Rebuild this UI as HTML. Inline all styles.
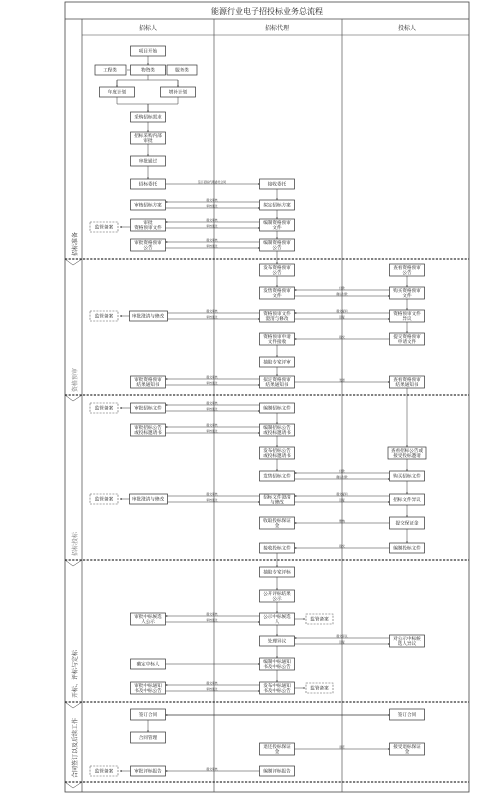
<!DOCTYPE html>
<html><head><meta charset="utf-8"><style>
html,body{margin:0;padding:0;background:#fff;}
svg{display:block;font-family:"Liberation Serif","Noto Serif CJK SC","Noto Sans CJK SC",serif;}
.b{fill:#fff;stroke:#333;stroke-width:0.7}
.d{fill:#fff;stroke:#555;stroke-width:0.6;stroke-dasharray:2,1.2}
.t{font-size:4.6px;text-anchor:middle;fill:#111}
.l{stroke:#333;stroke-width:0.5;fill:none}
.s{font-size:2.8px;text-anchor:middle;fill:#222}
.sep{stroke:#000;stroke-width:1;stroke-dasharray:2.2,1.4}
</style></head><body>
<svg width="499" height="800" viewBox="0 0 499 800">
<defs><marker id="a" markerWidth="4" markerHeight="4" refX="3.5" refY="2" orient="auto"><path d="M0,0.3 L4,2 L0,3.7z" fill="#222"/></marker></defs>
<!-- frame -->
<rect x="65" y="2" width="404" height="790" fill="none" stroke="#444" stroke-width="0.8"/>
<line x1="65" y1="19" x2="469" y2="19" stroke="#444" stroke-width="0.8"/>
<line x1="82" y1="35" x2="469" y2="35" stroke="#444" stroke-width="0.6"/>
<line x1="82" y1="19" x2="82" y2="792" stroke="#444" stroke-width="0.7"/>
<line x1="214" y1="19" x2="214" y2="792" stroke="#555" stroke-width="0.7"/>
<line x1="342" y1="19" x2="342" y2="792" stroke="#555" stroke-width="0.7"/>
<text x="267" y="14" font-size="8" text-anchor="middle" fill="#222">能源行业电子招投标业务总流程</text>
<text x="148" y="30" font-size="6" text-anchor="middle" fill="#222">招标人</text>
<text x="277" y="30" font-size="6" text-anchor="middle" fill="#222">招标代理</text>
<text x="407" y="30" font-size="6" text-anchor="middle" fill="#222">投标人</text>
<!-- separators -->
<line class="sep" x1="65" y1="259" x2="469" y2="259"/>
<line class="sep" x1="65" y1="395" x2="469" y2="395"/>
<line class="sep" x1="65" y1="560" x2="469" y2="560"/>
<line class="sep" x1="65" y1="702" x2="469" y2="702"/>
<line class="sep" x1="65" y1="782" x2="469" y2="782"/>
<path class="l" d="M65,259 L73,265 L82,259 M65,395 L73,401 L82,395 M65,560 L73,566 L82,560 M65,702 L73,708 L82,702 M65,782 L73,788 L82,782" stroke-width="0.8"/>
<g font-size="6" fill="#333">
<text transform="translate(77,256) rotate(-90)">招标准备</text>
<text transform="translate(77,392) rotate(-90)" fill="#777">资格预审</text>
<text transform="translate(77,556) rotate(-90)" fill="#777">招标投标</text>
<text transform="translate(77,698) rotate(-90)">开标、评标与定标</text>
<text transform="translate(77,778) rotate(-90)">合同签订以及后续工作</text>
</g>
<!-- connectors col1 top -->
<g class="l">
<line x1="148" y1="56" x2="148" y2="65" marker-end="url(#a)"/>
<line x1="127" y1="70" x2="130" y2="70"/><line x1="166" y1="70" x2="165" y2="70"/>
<path d="M148,75 V80 M117,80 H178 M117,80 V87 M178,80 V87" />
<line x1="117" y1="80" x2="117" y2="87" marker-end="url(#a)"/><line x1="178" y1="80" x2="178" y2="87" marker-end="url(#a)"/>
<path d="M117,97 V104 H178 V97 M148,104 V112" /><line x1="148" y1="104" x2="148" y2="112" marker-end="url(#a)"/>
<line x1="148" y1="122" x2="148" y2="132" marker-end="url(#a)"/>
<line x1="148" y1="144" x2="148" y2="156" marker-end="url(#a)"/>
<line x1="148" y1="166" x2="148" y2="179" marker-end="url(#a)"/>
<line x1="165.5" y1="184" x2="259.5" y2="184" marker-end="url(#a)"/>
<line x1="277" y1="189" x2="277" y2="200" marker-end="url(#a)"/>
<line x1="277" y1="210" x2="277" y2="219" marker-end="url(#a)"/>
<line x1="277" y1="231" x2="277" y2="239" marker-end="url(#a)"/>
<line x1="277" y1="251" x2="277" y2="264" marker-end="url(#a)"/>
<line x1="277" y1="276" x2="277" y2="287" marker-end="url(#a)"/>
<line x1="407" y1="276" x2="407" y2="287" marker-end="url(#a)"/>
<line x1="407" y1="299" x2="407" y2="310" marker-end="url(#a)"/>
<line x1="407" y1="322" x2="407" y2="333" marker-end="url(#a)"/>
<line x1="277" y1="345" x2="277" y2="357" marker-end="url(#a)"/>
<line x1="277" y1="367" x2="277" y2="376" marker-end="url(#a)"/>
<line x1="294.5" y1="382" x2="389.5" y2="382" marker-end="url(#a)"/>
<line x1="407" y1="388" x2="407" y2="447" marker-end="url(#a)"/>
<line x1="277" y1="413" x2="277" y2="424" marker-end="url(#a)"/>
<line x1="277" y1="436" x2="277" y2="447" marker-end="url(#a)"/>
<line x1="277" y1="459" x2="277" y2="471" marker-end="url(#a)"/>
<line x1="407" y1="459" x2="407" y2="471" marker-end="url(#a)"/>
<line x1="407" y1="481" x2="407" y2="494" marker-end="url(#a)"/>
<line x1="407" y1="505" x2="407" y2="517" marker-end="url(#a)"/>
<line x1="407" y1="529" x2="407" y2="543" marker-end="url(#a)"/>
<line x1="389.5" y1="339" x2="294.5" y2="339" marker-end="url(#a)"/>
<line x1="389.5" y1="523" x2="294.5" y2="523" marker-end="url(#a)"/>
<line x1="389.5" y1="548" x2="294.5" y2="548" marker-end="url(#a)"/>
<line x1="277" y1="553" x2="277" y2="567" marker-end="url(#a)"/>
<line x1="277" y1="577" x2="277" y2="590" marker-end="url(#a)"/>
<line x1="277" y1="602" x2="277" y2="613" marker-end="url(#a)"/>
<line x1="277" y1="625" x2="277" y2="636" marker-end="url(#a)"/>
<line x1="277" y1="646" x2="277" y2="658" marker-end="url(#a)"/>
<line x1="277" y1="670" x2="277" y2="682" marker-end="url(#a)"/>
<line x1="165.5" y1="664" x2="259.5" y2="664" marker-end="url(#a)"/>
<line x1="294.5" y1="619" x2="305" y2="619" marker-end="url(#a)"/>
<line x1="294.5" y1="688" x2="305" y2="688" marker-end="url(#a)"/>
<line x1="148" y1="720" x2="148" y2="732" marker-end="url(#a)"/>
<line x1="165.5" y1="715" x2="389.5" y2="715" marker-end="url(#a)"/>
<line x1="389.5" y1="715" x2="165.5" y2="715" marker-end="url(#a)"/>
<line x1="294.5" y1="749" x2="389.5" y2="749" marker-end="url(#a)"/>
<line x1="259.5" y1="771" x2="165.5" y2="771" marker-end="url(#a)"/>
<line x1="130.5" y1="771" x2="120" y2="771" marker-end="url(#a)"/>
<line x1="130.5" y1="227" x2="120" y2="227" marker-end="url(#a)"/>
<line x1="130.5" y1="316" x2="120" y2="316" marker-end="url(#a)"/>
<line x1="130.5" y1="408" x2="120" y2="408" marker-end="url(#a)"/>
<line x1="130.5" y1="499" x2="120" y2="499" marker-end="url(#a)"/>
<!-- pairs col1-col2 -->
<g>
<line x1="259.5" y1="202" x2="165.5" y2="202" marker-end="url(#a)"/><line x1="165.5" y1="208" x2="259.5" y2="208" marker-end="url(#a)"/>
<line x1="259.5" y1="222" x2="165.5" y2="222" marker-end="url(#a)"/><line x1="165.5" y1="228" x2="259.5" y2="228" marker-end="url(#a)"/>
<line x1="259.5" y1="242" x2="165.5" y2="242" marker-end="url(#a)"/><line x1="165.5" y1="248" x2="259.5" y2="248" marker-end="url(#a)"/>
<line x1="259.5" y1="313" x2="165.5" y2="313" marker-end="url(#a)"/><line x1="165.5" y1="319" x2="259.5" y2="319" marker-end="url(#a)"/>
<line x1="259.5" y1="379" x2="165.5" y2="379" marker-end="url(#a)"/><line x1="165.5" y1="385" x2="259.5" y2="385" marker-end="url(#a)"/>
<line x1="259.5" y1="405" x2="165.5" y2="405" marker-end="url(#a)"/><line x1="165.5" y1="411" x2="259.5" y2="411" marker-end="url(#a)"/>
<line x1="259.5" y1="427" x2="165.5" y2="427" marker-end="url(#a)"/><line x1="165.5" y1="433" x2="259.5" y2="433" marker-end="url(#a)"/>
<line x1="259.5" y1="496" x2="165.5" y2="496" marker-end="url(#a)"/><line x1="165.5" y1="502" x2="259.5" y2="502" marker-end="url(#a)"/>
<line x1="259.5" y1="616" x2="165.5" y2="616" marker-end="url(#a)"/><line x1="165.5" y1="622" x2="259.5" y2="622" marker-end="url(#a)"/>
<line x1="259.5" y1="685" x2="165.5" y2="685" marker-end="url(#a)"/><line x1="165.5" y1="691" x2="259.5" y2="691" marker-end="url(#a)"/>
<!-- col2-col3 pairs -->
<line x1="389.5" y1="290" x2="294.5" y2="290" marker-end="url(#a)"/><line x1="294.5" y1="296" x2="389.5" y2="296" marker-end="url(#a)"/>
<line x1="389.5" y1="313" x2="294.5" y2="313" marker-end="url(#a)"/><line x1="294.5" y1="319" x2="389.5" y2="319" marker-end="url(#a)"/>
<line x1="389.5" y1="473" x2="294.5" y2="473" marker-end="url(#a)"/><line x1="294.5" y1="479" x2="389.5" y2="479" marker-end="url(#a)"/>
<line x1="389.5" y1="496" x2="294.5" y2="496" marker-end="url(#a)"/><line x1="294.5" y1="502" x2="389.5" y2="502" marker-end="url(#a)"/>
<line x1="389.5" y1="638" x2="294.5" y2="638" marker-end="url(#a)"/><line x1="294.5" y1="644" x2="389.5" y2="644" marker-end="url(#a)"/>
</g>
</g>
<!-- tiny labels -->
<g class="s">
<text x="212" y="183">签订招标代理委托合同</text>
<text x="212" y="201">提交审核</text><text x="212" y="207">审核通过</text>
<text x="212" y="221">提交审核</text><text x="212" y="227">审核通过</text>
<text x="212" y="241">提交审核</text><text x="212" y="247">审核通过</text>
<text x="212" y="312">提交审核</text><text x="212" y="318">审核通过</text>
<text x="212" y="378">提交审核</text><text x="212" y="384">审核通过</text>
<text x="212" y="404">提交审核</text><text x="212" y="410">审核通过</text>
<text x="212" y="426">提交审核</text><text x="212" y="432">审核通过</text>
<text x="212" y="495">提交审核</text><text x="212" y="501">审核通过</text>
<text x="212" y="615">提交审核</text><text x="212" y="621">审核通过</text>
<text x="212" y="684">提交审核</text><text x="212" y="690">审核通过</text>
<text x="212" y="770">提交审核</text>
<text x="342" y="289">付款</text><text x="342" y="295">确认付款</text>
<text x="342" y="312">提交疑问</text><text x="342" y="318">回复</text>
<text x="342" y="338">提交</text><text x="342" y="381">发送</text>
<text x="342" y="472">付款</text><text x="342" y="478">确认付款</text>
<text x="342" y="495">提交疑问</text><text x="342" y="501">回复</text>
<text x="342" y="522">缴纳</text><text x="342" y="547">提交</text>
<text x="342" y="637">提交异议</text><text x="342" y="643">回复</text>
<text x="342" y="748">退还</text>
</g>
<!-- boxes -->
<g>
<rect class="b" x="130.5" y="46" width="35" height="10"/><text class="t" x="148" y="52.6">项目开始</text>
<rect class="b" x="95" y="65" width="31" height="10"/><text class="t" x="110" y="71.6">工程类</text>
<rect class="b" x="130.5" y="65" width="35" height="10"/><text class="t" x="148" y="71.6">物资类</text>
<rect class="b" x="167" y="65" width="30" height="10"/><text class="t" x="182" y="71.6">服务类</text>
<rect class="b" x="99.5" y="87" width="35" height="10"/><text class="t" x="117" y="93.6">年度计划</text>
<rect class="b" x="160.5" y="87" width="35" height="10"/><text class="t" x="178" y="93.6">增补计划</text>
<rect class="b" x="130.5" y="112" width="35" height="10"/><text class="t" x="148" y="118.6">采购招标需求</text>
<rect class="b" x="130.5" y="132" width="35" height="12"/><text class="t" x="148" y="137">招标采购内部</text><text class="t" x="148" y="142">审批</text>
<rect class="b" x="130.5" y="156" width="35" height="10"/><text class="t" x="148" y="162.6">审批通过</text>
<rect class="b" x="130.5" y="179" width="35" height="10"/><text class="t" x="148" y="185.6">招标委托</text>
<rect class="b" x="259.5" y="179" width="35" height="10"/><text class="t" x="277" y="185.6">接收委托</text>
<rect class="b" x="130.5" y="200" width="35" height="10"/><text class="t" x="148" y="206.6">审核招标方案</text>
<rect class="b" x="259.5" y="200" width="35" height="10"/><text class="t" x="277" y="206.6">拟定招标方案</text>
<rect class="b" x="130.5" y="219" width="35" height="12"/><text class="t" x="148" y="224">审批</text><text class="t" x="148" y="229">资格预审文件</text>
<rect class="b" x="259.5" y="219" width="35" height="12"/><text class="t" x="277" y="224">编制资格预审</text><text class="t" x="277" y="229">文件</text>
<rect class="d" x="90" y="222" width="28" height="10"/><text class="t" x="104" y="228.6">监管备案</text>
<rect class="b" x="130.5" y="239" width="35" height="12"/><text class="t" x="148" y="244">审批资格预审</text><text class="t" x="148" y="249">公告</text>
<rect class="b" x="259.5" y="239" width="35" height="12"/><text class="t" x="277" y="244">编制资格预审</text><text class="t" x="277" y="249">公告</text>

<rect class="b" x="259.5" y="264" width="35" height="12"/><text class="t" x="277" y="269">发布资格预审</text><text class="t" x="277" y="274">公告</text>
<rect class="b" x="389.5" y="264" width="35" height="12"/><text class="t" x="407" y="269">查看资格预审</text><text class="t" x="407" y="274">公告</text>
<rect class="b" x="259.5" y="287" width="35" height="12"/><text class="t" x="277" y="292">发售资格预审</text><text class="t" x="277" y="297">文件</text>
<rect class="b" x="389.5" y="287" width="35" height="12"/><text class="t" x="407" y="292">购买资格预审</text><text class="t" x="407" y="297">文件</text>
<rect class="b" x="259.5" y="310" width="35" height="12"/><text class="t" x="277" y="315">资格预审文件</text><text class="t" x="277" y="320">澄清与修改</text>
<rect class="b" x="389.5" y="310" width="35" height="12"/><text class="t" x="407" y="315">资格预审文件</text><text class="t" x="407" y="320">异议</text>
<rect class="b" x="129.5" y="311" width="38" height="10"/><text class="t" x="148" y="317.6">审批澄清与修改</text>
<rect class="d" x="90" y="311" width="28" height="10"/><text class="t" x="104" y="317.6">监管备案</text>
<rect class="b" x="259.5" y="333" width="35" height="12"/><text class="t" x="277" y="338">资格预审申请</text><text class="t" x="277" y="343">文件接收</text>
<rect class="b" x="389.5" y="333" width="35" height="12"/><text class="t" x="407" y="338">提交资格预审</text><text class="t" x="407" y="343">申请文件</text>
<rect class="b" x="259.5" y="357" width="35" height="10"/><text class="t" x="277" y="363.6">抽取专家评审</text>
<rect class="b" x="259.5" y="376" width="35" height="12"/><text class="t" x="277" y="381">拟定资格预审</text><text class="t" x="277" y="386">结果通知书</text>
<rect class="b" x="389.5" y="376" width="35" height="12"/><text class="t" x="407" y="381">查看资格预审</text><text class="t" x="407" y="386">结果通知书</text>
<rect class="b" x="130.5" y="376" width="35" height="12"/><text class="t" x="148" y="381">审批资格预审</text><text class="t" x="148" y="386">结果通知书</text>

<rect class="b" x="259.5" y="403" width="35" height="10"/><text class="t" x="277" y="409.6">编制招标文件</text>
<rect class="b" x="130.5" y="403" width="35" height="10"/><text class="t" x="148" y="409.6">审批招标文件</text>
<rect class="d" x="90" y="403" width="28" height="10"/><text class="t" x="104" y="409.6">监管备案</text>
<rect class="b" x="259.5" y="424" width="35" height="12"/><text class="t" x="277" y="429">编制招标公告</text><text class="t" x="277" y="434">或投标邀请书</text>
<rect class="b" x="130.5" y="424" width="35" height="12"/><text class="t" x="148" y="429">审批招标公告</text><text class="t" x="148" y="434">或投标邀请书</text>
<rect class="b" x="259.5" y="447" width="35" height="12"/><text class="t" x="277" y="452">发布招标公告</text><text class="t" x="277" y="457">或投标邀请书</text>
<rect class="b" x="388" y="447" width="38" height="12"/><text class="t" x="407" y="452">查看招标公告或</text><text class="t" x="407" y="457">接受投标邀请</text>
<rect class="b" x="259.5" y="471" width="35" height="10"/><text class="t" x="277" y="477.6">发售招标文件</text>
<rect class="b" x="389.5" y="471" width="35" height="10"/><text class="t" x="407" y="477.6">购买招标文件</text>
<rect class="b" x="259.5" y="494" width="35" height="11"/><text class="t" x="277" y="498.5">招标文件澄清</text><text class="t" x="277" y="503.5">与修改</text>
<rect class="b" x="389.5" y="494" width="35" height="11"/><text class="t" x="407" y="501">招标文件异议</text>
<rect class="b" x="129.5" y="494" width="38" height="10"/><text class="t" x="148" y="500.6">审批澄清与修改</text>
<rect class="d" x="90" y="494" width="28" height="10"/><text class="t" x="104" y="500.6">监管备案</text>
<rect class="b" x="259.5" y="517" width="35" height="12"/><text class="t" x="277" y="522">收取投标保证</text><text class="t" x="277" y="527">金</text>
<rect class="b" x="389.5" y="517" width="35" height="12"/><text class="t" x="407" y="524.6">提交保证金</text>
<rect class="b" x="259.5" y="543" width="35" height="10"/><text class="t" x="277" y="549.6">接收投标文件</text>
<rect class="b" x="389.5" y="543" width="35" height="10"/><text class="t" x="407" y="549.6">编制投标文件</text>

<rect class="b" x="259.5" y="567" width="35" height="10"/><text class="t" x="277" y="573.6">抽取专家评标</text>
<rect class="b" x="259.5" y="590" width="35" height="12"/><text class="t" x="277" y="595">公开评标结果</text><text class="t" x="277" y="600">公示</text>
<rect class="b" x="259.5" y="613" width="35" height="12"/><text class="t" x="277" y="618">公示中标候选</text><text class="t" x="277" y="623">人</text>
<rect class="b" x="130.5" y="613" width="35" height="12"/><text class="t" x="148" y="618">审批中标候选</text><text class="t" x="148" y="623">人公示</text>
<rect class="d" x="306" y="614" width="27" height="10"/><text class="t" x="319.5" y="620.6">监管备案</text>
<rect class="b" x="259.5" y="636" width="35" height="10"/><text class="t" x="277" y="642.6">处理异议</text>
<rect class="b" x="389.5" y="635" width="35" height="12"/><text class="t" x="407" y="640">对公示中标候</text><text class="t" x="407" y="645">选人异议</text>
<rect class="b" x="259.5" y="658" width="35" height="12"/><text class="t" x="277" y="663">编制中标通知</text><text class="t" x="277" y="668">书及中标公告</text>
<rect class="b" x="130.5" y="659" width="35" height="10"/><text class="t" x="148" y="665.6">确定中标人</text>
<rect class="b" x="259.5" y="682" width="35" height="12"/><text class="t" x="277" y="687">发布中标通知</text><text class="t" x="277" y="692">书及中标公告</text>
<rect class="b" x="130.5" y="682" width="35" height="12"/><text class="t" x="148" y="687">审批中标通知</text><text class="t" x="148" y="692">书及中标公告</text>
<rect class="d" x="306" y="683" width="27" height="10"/><text class="t" x="319.5" y="689.6">监管备案</text>

<rect class="b" x="130.5" y="709" width="35" height="11"/><text class="t" x="148" y="716">签订合同</text>
<rect class="b" x="389.5" y="709" width="35" height="11"/><text class="t" x="407" y="716">签订合同</text>
<rect class="b" x="130.5" y="732" width="35" height="11"/><text class="t" x="148" y="739">合同管理</text>
<rect class="b" x="259.5" y="743" width="35" height="12"/><text class="t" x="277" y="748">退还投标保证</text><text class="t" x="277" y="753">金</text>
<rect class="b" x="389.5" y="743" width="35" height="12"/><text class="t" x="407" y="748">接受退标保证</text><text class="t" x="407" y="753">金</text>
<rect class="b" x="259.5" y="766" width="35" height="10"/><text class="t" x="277" y="772.6">编制评标报告</text>
<rect class="b" x="130.5" y="766" width="35" height="10"/><text class="t" x="148" y="772.6">审批评标报告</text>
<rect class="d" x="90" y="766" width="28" height="10"/><text class="t" x="104" y="772.6">监管备案</text>
</g>
</svg>
</body></html>
